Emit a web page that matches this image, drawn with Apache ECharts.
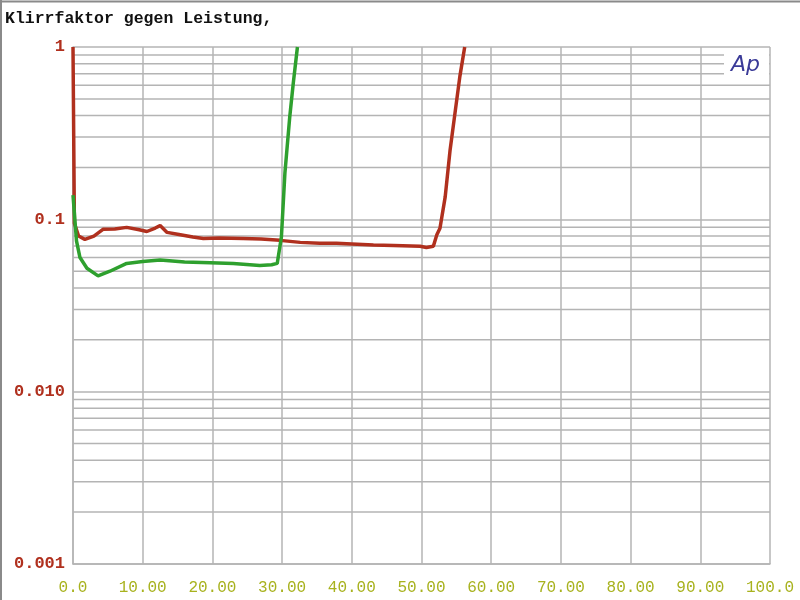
<!DOCTYPE html>
<html>
<head>
<meta charset="utf-8">
<script src="https://cdn.jsdelivr.net/npm/echarts@6/dist/echarts.min.js"></script>
<style>
html,body{margin:0;padding:0;background:#fff;}
#c{width:800px;height:600px;}
</style>
</head>
<body>
<div id="c"></div>
<script>
const titleText = 'Klirrfaktor gegen Leistung,';
const xTickLabels = ['0.0','10.00','20.00','30.00','40.00','50.00','60.00','70.00','80.00','90.00','100.0'];
const yTickValues = [0.001, 0.01, 0.1, 1];
const yTickLabels = ['0.001', '0.010', '0.1', '1'];
const minorGrid = [0.002,0.003,0.004,0.005,0.006,0.007,0.008,0.009,
                   0.02,0.03,0.04,0.05,0.06,0.07,0.08,0.09,
                   0.2,0.3,0.4,0.5,0.6,0.7,0.8,0.9];
// red curve: [power, THD]
const redX = [0, 0.2, 0.8, 1.7, 3.0, 4.3, 6.0, 7.7, 9.5, 10.6, 11.8, 12.5, 13.5, 15.0, 17.2, 18.7, 21.0, 24.4, 27.0, 29.7, 32.6, 35.4, 37.8, 40.0, 43.1, 46.0, 49.8, 50.7, 51.7, 52.2, 52.65, 53.4, 54.1, 54.8, 55.5, 56.2];
const redY = [1.0, 0.095, 0.08, 0.0765, 0.08, 0.0875, 0.088, 0.0898, 0.087, 0.085, 0.089, 0.092, 0.084, 0.082, 0.079, 0.0775, 0.0778, 0.0775, 0.077, 0.0755, 0.0735, 0.0726, 0.0726, 0.072, 0.0709, 0.0705, 0.0698, 0.0687, 0.0698, 0.0813, 0.0887, 0.135, 0.252, 0.412, 0.673, 1.0];
// green curve
const greenX = [0, 0.5, 1.0, 2.0, 3.6, 5.3, 7.7, 10.0, 12.5, 16.0, 19.7, 23.0, 26.8, 28.5, 29.3, 29.9, 30.4, 31.1, 31.6, 32.2];
const greenY = [0.138, 0.075, 0.06, 0.052, 0.047, 0.05, 0.0555, 0.057, 0.058, 0.0565, 0.056, 0.0555, 0.054, 0.0545, 0.0555, 0.079, 0.185, 0.394, 0.615, 1.0];

const zip = (xs, ys) => xs.map((x, i) => [x, ys[i]]);
const GRID_COLOR = '#b4b4b4';

const gridSeries = minorGrid.map(v => ({
  type: 'line', name: 'minor' + v, data: [[0, v], [100, v]],
  silent: true, showSymbol: false, z: 1, animation: false,
  lineStyle: {color: GRID_COLOR, width: 1.5},
  emphasis: {disabled: true}, tooltip: {show: false}
}));

const chart = echarts.init(document.getElementById('c'), null, {renderer: 'canvas'});
chart.setOption({
  animation: false,
  backgroundColor: '#fff',
  title: {
    text: titleText,
    left: 0, top: 10, padding: [0, 5],
    textStyle: {fontFamily: 'Liberation Mono', fontSize: 16.5, fontWeight: 'bold', color: '#111'}
  },
  grid: {left: 73, right: 30, top: 47, bottom: 36, containLabel: false},
  xAxis: {
    type: 'value', min: 0, max: 100, interval: 10,
    axisLine: {show: true, lineStyle: {color: GRID_COLOR, width: 1.5}},
    axisTick: {show: false},
    splitLine: {show: true, lineStyle: {color: GRID_COLOR, width: 1.5}},
    axisLabel: {
      margin: 16,
      fontFamily: 'Liberation Mono', fontSize: 16, color: '#a8b21e',
      formatter: (v) => xTickLabels[Math.round(v / 10)]
    }
  },
  yAxis: {
    type: 'log', logBase: 10, min: 0.001, max: 1,
    axisLine: {show: true, lineStyle: {color: GRID_COLOR, width: 1.5}},
    axisTick: {show: false},
    splitLine: {show: true, lineStyle: {color: GRID_COLOR, width: 1.5}},
    axisLabel: {
      margin: 8,
      fontFamily: 'Liberation Mono', fontSize: 17, fontWeight: 'bold', color: '#b0301e',
      formatter: (v) => {
        const i = yTickValues.findIndex(t => Math.abs(Math.log10(t) - Math.log10(v)) < 1e-6);
        return i >= 0 ? yTickLabels[i] : '';
      }
    }
  },
  series: gridSeries.concat([
    {
      type: 'line', name: 'red', data: zip(redX, redY), showSymbol: false, z: 3,
      lineStyle: {color: '#b0301e', width: 3.5}, itemStyle: {color: '#b0301e'}
    },
    {
      type: 'line', name: 'green', data: zip(greenX, greenY), showSymbol: false, z: 4,
      lineStyle: {color: '#2ea02e', width: 3.5}, itemStyle: {color: '#2ea02e'}
    }
  ]),
  graphic: [
    {type: 'line', shape: {x1: 0, y1: 1.5, x2: 800, y2: 1.5}, style: {stroke: '#8a8a8a', lineWidth: 2}},
    {type: 'line', shape: {x1: 1, y1: 0, x2: 1, y2: 600}, style: {stroke: '#8a8a8a', lineWidth: 2}},
    {type: 'rect', shape: {x: 724, y: 50, width: 45, height: 31}, style: {fill: '#fff'}, z: 100},
    {type: 'text', x: 731, y: 54, z: 101,
     style: {text: 'Ap', fill: '#3b3b98', font: 'italic 22px "DejaVu Sans"'}}
  ]
});
</script>
</body>
</html>
